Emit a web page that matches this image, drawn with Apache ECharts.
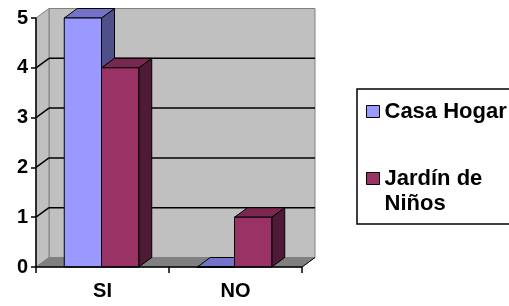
<!DOCTYPE html>
<html>
<head>
<meta charset="utf-8">
<script src="https://cdn.jsdelivr.net/npm/echarts@6/dist/echarts.min.js"></script>
<style>
  html, body { margin: 0; padding: 0; background: #fff; }
  #chart { width: 509px; height: 306px; }
</style>
</head>
<body>
<div id="chart"></div>
<script>
  var categories = ['SI', 'NO']
  var seriesNames = ['Casa Hogar', 'Jardín de Niños']
  var casaHogar = [5, 0]
  var jardinNinos = [4, 1]
  var yTicks = [0, 1, 2, 3, 4, 5]

  // depth of the fake 3d box
  var DX = 13
  var DY = -9.5
  var FONT = "'Liberation Sans', Arial, sans-serif"

  var colors = [
    { front: '#9999ff', top: '#7373c8', side: '#4f4f8a' },
    { front: '#993366', top: '#7a2850', side: '#4f1a35' }
  ]

  function wallItem(params, api) {
    var cs = params.coordSys
    var x = cs.x, y = cs.y, w = cs.width, h = cs.height
    var edge = { stroke: '#808080', lineWidth: 1 }
    return {
      type: 'group',
      children: [
        { type: 'polygon', shape: { points: [[x + DX, y + DY], [x + w + DX, y + DY], [x + w + DX, y + h + DY], [x + DX, y + h + DY]] },
          style: Object.assign({ fill: '#c0c0c0' }, edge) },
        { type: 'polygon', shape: { points: [[x, y], [x + DX, y + DY], [x + DX, y + h + DY], [x, y + h]] },
          style: Object.assign({ fill: '#c0c0c0' }, edge) },
        { type: 'polygon', shape: { points: [[x, y + h], [x + DX, y + h + DY], [x + w + DX, y + h + DY], [x + w, y + h]] },
          style: { fill: '#808080', stroke: '#808080', lineWidth: 1 } },
        { type: 'line', shape: { x1: x + w, y1: y + h, x2: x + w + DX, y2: y + h + DY },
          style: { stroke: '#000', lineWidth: 1 } }
      ]
    }
  }

  function gridItem(params, api) {
    var v = api.value(1)
    if (v === 0 || v === 5) return
    var cs = params.coordSys
    var py = api.coord([0, v])[1]
    return {
      type: 'group',
      children: [
        { type: 'line', shape: { x1: cs.x + DX, y1: py + DY, x2: cs.x + cs.width + DX, y2: py + DY },
          style: { stroke: '#000', lineWidth: 1.5 } },
        { type: 'line', shape: { x1: cs.x, y1: py, x2: cs.x + DX, y2: py + DY },
          style: { stroke: '#000', lineWidth: 1.5 } }
      ]
    }
  }

  function barItem(idx) {
    var c = colors[idx]
    return function (params, api) {
      var cat = api.value(0)
      var base = api.coord([cat, 0])
      var top = api.coord([cat, api.value(1)])
      var bw = api.size([1, 0])[0] * 0.28
      var x0 = base[0] - bw + idx * bw - 1
      var x1 = x0 + bw
      var y0 = top[1], y1 = base[1]
      var st = { stroke: '#000', lineWidth: 1 }
      return {
        type: 'group',
        children: [
          { type: 'polygon', shape: { points: [[x1, y0], [x1 + DX, y0 + DY], [x1 + DX, y1 + DY], [x1, y1]] },
            style: Object.assign({ fill: c.side }, st) },
          { type: 'polygon', shape: { points: [[x0, y0], [x1, y0], [x1 + DX, y0 + DY], [x0 + DX, y0 + DY]] },
            style: Object.assign({ fill: c.top }, st) },
          { type: 'rect', shape: { x: x0, y: y0, width: bw, height: y1 - y0 },
            style: Object.assign({ fill: c.front }, st) }
        ]
      }
    }
  }

  var legendFont = { fontFamily: FONT, fontWeight: 700, fontSize: 22, color: '#000', lineHeight: 25 }

  var chart = echarts.init(document.getElementById('chart'))
  chart.setOption({
    animation: false,
    backgroundColor: '#fff',
    grid: { left: 36, right: 207, top: 18, bottom: 39 },
    legend: {
      orient: 'vertical',
      left: 357,
      top: 89,
      padding: [10, 40, 8, 9],
      borderColor: '#000',
      borderWidth: 1.5,
      itemWidth: 13,
      itemHeight: 12,
      itemGap: 17,
      icon: 'rect',
      itemStyle: { borderColor: '#000', borderWidth: 1 },
      textStyle: Object.assign({
        rich: {
          t: legendFont,
          h: Object.assign({}, legendFont, { color: 'transparent' })
        }
      }, legendFont),
      // an invisible first line keeps "Jardín de" level with its marker
      formatter: function (name) {
        if (name === 'Jardín de Niños') return '{h|.}\n{t|Jardín de}\n{t|Niños}'
        return '{t|' + name + '}'
      },
      data: seriesNames
    },
    xAxis: {
      type: 'category',
      data: categories,
      z: 5,
      boundaryGap: true,
      axisLine: { lineStyle: { color: '#000', width: 1.5 } },
      axisTick: { show: true, length: 6, lineStyle: { color: '#000', width: 1.5 } },
      axisLabel: { fontFamily: FONT, fontWeight: 700, fontSize: 20, color: '#000', margin: 14 },
      splitLine: { show: false }
    },
    yAxis: {
      type: 'value',
      min: 0,
      max: 5,
      interval: 1,
      z: 5,
      axisLine: { show: true, lineStyle: { color: '#000', width: 1.5 } },
      axisTick: { show: true, length: 5, lineStyle: { color: '#000', width: 1.5 } },
      axisLabel: { fontFamily: FONT, fontWeight: 700, fontSize: 20, color: '#000', margin: 8 },
      splitLine: { show: false }
    },
    series: [
      { type: 'custom', name: 'walls', renderItem: wallItem, data: [[0, 0]], silent: true, z: 0 },
      { type: 'custom', name: 'gridlines', renderItem: gridItem, data: yTicks.map(function (v) { return [0, v] }), silent: true, z: 1 },
      { type: 'custom', name: seriesNames[0], renderItem: barItem(0), itemStyle: { color: colors[0].front },
        data: casaHogar.map(function (v, i) { return [i, v] }), z: 2 },
      { type: 'custom', name: seriesNames[1], renderItem: barItem(1), itemStyle: { color: colors[1].front },
        data: jardinNinos.map(function (v, i) { return [i, v] }), z: 3 }
    ]
  })
</script>
</body>
</html>
